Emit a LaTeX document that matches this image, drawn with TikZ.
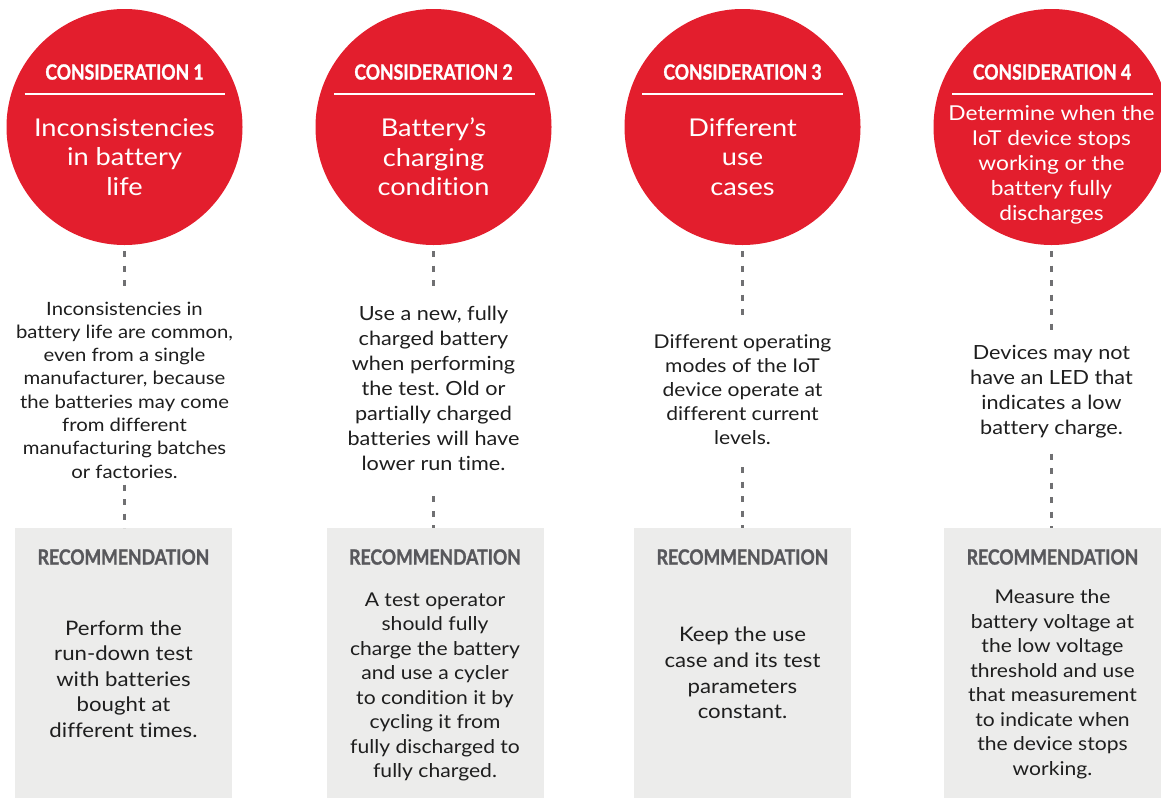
\documentclass[tikz,border=0pt]{standalone}
\usepackage{fontspec}
\setmainfont{Lato}[FakeStretch=1.11,Ligatures=NoCommon]
\newfontfamily\headfont[FakeStretch=0.84,FakeBold=1.2]{Lato}
\usetikzlibrary{positioning}
\definecolor{consred}{RGB}{227,30,45}
\definecolor{recgray}{RGB}{236,236,235}
\definecolor{dashgray}{RGB}{112,112,114}
\definecolor{headgray}{RGB}{88,88,92}
\definecolor{bodyblack}{RGB}{30,30,30}
\frenchspacing
\tikzset{
	consnode/.style={circle,fill=consred,minimum size=236pt,inner sep=0pt},
	constitle/.style={text=white,inner sep=0pt,font=\headfont\bfseries\fontsize{21}{21}\selectfont},
	constext/.style={text=white,align=center,inner sep=0pt,font=\fontsize{24.5}{29.5}\selectfont},
	desctext/.style={text=bodyblack,align=center,inner sep=0pt,font=\fontsize{19}{24}\selectfont},
	recbox/.style={fill=recgray,minimum width=217pt,minimum height=270pt,inner sep=0pt},
	rectitle/.style={text=headgray,inner sep=0pt,font=\headfont\bfseries\fontsize{21}{21}\selectfont},
	rectext/.style={text=bodyblack,align=center,inner sep=0pt,font=\fontsize{19}{24.5}\selectfont},
	dashln/.style={draw=dashgray,line width=3pt,dash pattern=on 6pt off 8.5pt}
}
\begin{document}
\begin{tikzpicture}[x=1pt,y=-1pt]
	\useasboundingbox (0,0) rectangle (1161,798);
	\clip (0,0) rectangle (1161,798);
	
	% red circles on top
	\node[consnode] (circ1) at (124.5,127) {};
	\node[consnode] (circ2) at (433.5,127) {};
	\node[consnode] (circ3) at (742.5,127) {};
	\node[consnode] (circ4) at (1051.5,127) {};
	
	\node[constitle] (ct1) at (124.5,72) {CONSIDERATION 1};
	\node[constitle] (ct2) at (433.5,72) {CONSIDERATION 2};
	\node[constitle] (ct3) at (742.5,72) {CONSIDERATION 3};
	\node[constitle] (ct4) at (1052,72) {CONSIDERATION 4};
	\draw[white,line width=1.2pt] (24.5,94) -- (224.5,94);
	\draw[white,line width=1.2pt] (334,94) -- (535,94);
	\draw[white,line width=1.2pt] (642,94) -- (843,94);
	\draw[white,line width=1.2pt] (952,94) -- (1153,94);
	
	\node[constext] (cm1) at (124.5,157) {Inconsistencies\\in battery\\life};
	\node[constext] (cm2) at (433.5,157) {Battery’s\\charging\\condition};
	\node[constext] (cm3) at (742.5,157) {Different\\use\\cases};
	\node[constext,font=\fontsize{20.5}{25}\selectfont] (cm4) at (1051.5,165) {Determine when the\\IoT device stops\\working or the\\battery fully\\discharges};
	
	% the finding under each circle
	\node[desctext,font=\fontsize{18.3}{23.3}\selectfont] (desc1) at (124.5,390) {Inconsistencies in\\battery life are common,\\even from a single\\manufacturer, because\\the batteries may come\\from different\\manufacturing batches\\or factories.};
	\node[desctext,font=\fontsize{19.5}{25}\selectfont] (desc2) at (433.5,388) {Use a new, fully\\charged battery\\when performing\\the test. Old or\\partially charged\\batteries will have\\lower run time.};
	\node[desctext] (desc3) at (742.5,390) {Different operating\\modes of the IoT\\device operate at\\different current\\levels.};
	\node[desctext,font=\fontsize{19.5}{25}\selectfont] (desc4) at (1051.5,392) {Devices may not\\have an LED that\\indicates a low\\battery charge.};
	
	% grey recommendation boxes
	\node[recbox,anchor=north] (rec1) at (123.5,528) {};
	\node[recbox,anchor=north] (rec2) at (435,528) {};
	\node[recbox,anchor=north] (rec3) at (742.5,528) {};
	\node[recbox,anchor=north] (rec4) at (1052.5,528) {};
	
	\node[rectitle] (rt1) at (123.5,557) {RECOMMENDATION};
	\node[rectitle] (rt2) at (435,557) {RECOMMENDATION};
	\node[rectitle] (rt3) at (742.5,557) {RECOMMENDATION};
	\node[rectitle] (rt4) at (1052.5,557) {RECOMMENDATION};
	
	\node[rectext,font=\fontsize{20}{25.6}\selectfont] (rx1) at (123.5,679) {Perform the\\run-down test\\with batteries\\bought at\\different times.};
	\node[rectext] (rx2) at (435,687) {A test operator\\should fully\\charge the battery\\and use a cycler\\to condition it by\\cycling it from\\fully discharged to\\fully charged.};
	\node[rectext,font=\fontsize{20}{25.6}\selectfont] (rx3) at (742.5,673) {Keep the use\\case and its test\\parameters\\constant.};
	\node[rectext] (rx4) at (1052.5,684) {Measure the\\battery voltage at\\the low voltage\\threshold and use\\that measurement\\to indicate when\\the device stops\\working.};
	
	% dotted links
	\draw[dashln,shorten <=6pt,shorten >=14pt] (circ1.south) -- (desc1.north);
	\draw[dashln,shorten <=6pt,shorten >=14pt] (circ2.south) -- (desc2.north);
	\draw[dashln,shorten <=6pt,shorten >=14pt] (circ3.south) -- (desc3.north);
	\draw[dashln,shorten <=6pt,shorten >=14pt] (circ4.south) -- (desc4.north);
	\draw[dashln,shorten <=6pt] (desc1.south) -- (rec1.north -| desc1.south);
	\draw[dashln,shorten <=26pt] (desc2.south) -- (rec2.north -| desc2.south);
	\draw[dashln,shorten <=22pt] (desc3.south) -- (rec3.north -| desc3.south);
	\draw[dashln,shorten <=15pt] (desc4.south) -- (rec4.north -| desc4.south);
\end{tikzpicture}
\end{document}
